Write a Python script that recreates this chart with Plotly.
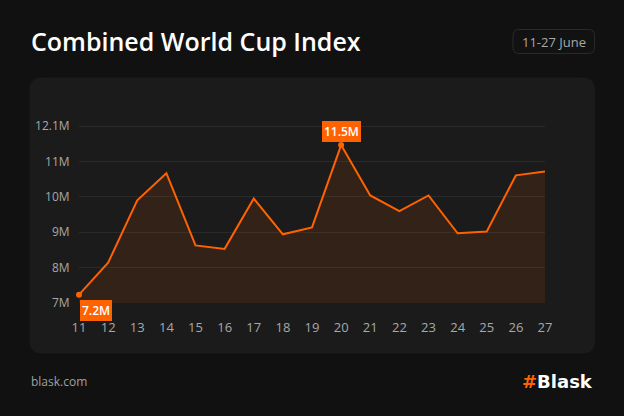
import plotly.graph_objects as go

days = [11, 12, 13, 14, 15, 16, 17, 18, 19, 20, 21, 22, 23, 24, 25, 26, 27]
index_m = [7.24, 8.16, 9.96, 10.74, 8.66, 8.56, 10.01, 8.98, 9.18, 11.55,
           10.10, 9.65, 10.10, 9.01, 9.06, 10.68, 10.79]
y_tickvals = [7.0, 8.02, 9.04, 10.06, 11.08, 12.1]
y_ticktext = ["7M", "8M", "9M", "10M", "11M", "12.1M"]
low_label = "7.2M"
high_label = "11.5M"
title = "Combined World Cup Index"
date_range = "11-27 June"

W, H = 624, 416
L, R, T, B = 79, 79, 125, 113
PW, PH = W - L - R, H - T - B

ORANGE = "#ff6200"
FONT = "Open Sans"


def px(x):
    return (x - L) / PW


def py(y):
    return (H - B - y) / PH


def rounded_rect(x0, y0, x1, y1, r):
    rx, ry = r / PW, r / PH
    X0, X1 = px(x0), px(x1)
    Y0, Y1 = py(y0), py(y1)  # Y0 top (larger), Y1 bottom
    return (f"M {X0+rx},{Y0} L {X1-rx},{Y0} Q {X1},{Y0} {X1},{Y0-ry} "
            f"L {X1},{Y1+ry} Q {X1},{Y1} {X1-rx},{Y1} "
            f"L {X0+rx},{Y1} Q {X0},{Y1} {X0},{Y1+ry} "
            f"L {X0},{Y0-ry} Q {X0},{Y0} {X0+rx},{Y0} Z")


fig = go.Figure()
fig.add_trace(go.Scatter(
    x=days, y=index_m, mode="lines",
    line=dict(color=ORANGE, width=2),
    fill="tozeroy", fillcolor="rgba(255,98,0,0.10)",
    hoverinfo="skip", showlegend=False,
))

lo_i = index_m.index(min(index_m))
hi_i = index_m.index(max(index_m))
fig.add_trace(go.Scatter(
    x=[days[lo_i], days[hi_i]], y=[index_m[lo_i], index_m[hi_i]],
    mode="markers", marker=dict(color=ORANGE, size=6),
    cliponaxis=False, hoverinfo="skip", showlegend=False,
))

shapes = [
    dict(type="path", xref="paper", yref="paper", layer="below",
         path=rounded_rect(29.5, 77.5, 595, 353.5, 13),
         fillcolor="#1b1b1b", line=dict(width=0)),
    dict(type="path", xref="paper", yref="paper", layer="below",
         path=rounded_rect(513, 29.5, 594.5, 53.5, 6),
         fillcolor="#121212", line=dict(width=1, color="#2a2a2a")),
]

annotations = [
    dict(xref="paper", yref="paper", x=px(29), y=py(41), xanchor="left",
         yanchor="middle", text=title, showarrow=False,
         font=dict(family=FONT, size=25, color="#ffffff", weight=600)),
    dict(xref="paper", yref="paper", x=px(553.5), y=py(41.5), xanchor="center",
         yanchor="middle", text=date_range, showarrow=False,
         font=dict(family=FONT, size=13, color="#a8a8a8")),
    dict(xref="paper", yref="paper", x=px(29), y=py(381), xanchor="left",
         yanchor="middle", text="blask.com", showarrow=False,
         font=dict(family=FONT, size=12, color="#a0a0a0")),
    dict(xref="paper", yref="paper", x=px(595), y=py(381), xanchor="right",
         yanchor="middle",
         text=f"<span style='color:{ORANGE}'>#</span>Blask", showarrow=False,
         font=dict(family="DejaVu Sans", size=18, color="#ffffff", weight=700)),
    dict(x=days[lo_i], y=index_m[lo_i], xref="x", yref="y", text=low_label,
         showarrow=False, xshift=16.5, yshift=-15.5,
         bgcolor=ORANGE, bordercolor=ORANGE, borderwidth=1, borderpad=1,
         font=dict(family=FONT, size=12, color="#ffffff", weight=600)),
    dict(x=days[hi_i], y=index_m[hi_i], xref="x", yref="y", text=high_label,
         showarrow=False, yshift=14,
         bgcolor=ORANGE, bordercolor=ORANGE, borderwidth=1, borderpad=1,
         font=dict(family=FONT, size=12, color="#ffffff", weight=600)),
]

fig.update_layout(
    width=W, height=H,
    margin=dict(l=L, r=R, t=T, b=B),
    paper_bgcolor="#111111", plot_bgcolor="rgba(0,0,0,0)",
    shapes=shapes, annotations=annotations,
    xaxis=dict(range=[days[0], days[-1]], tickvals=days,
               ticktext=[str(d) for d in days], showgrid=False,
               zeroline=False, showline=False,
               ticks="outside", ticklen=12, tickcolor="rgba(0,0,0,0)",
               tickfont=dict(family=FONT, size=13, color="#a8a8a8")),
    yaxis=dict(range=[7, 12.13], tickvals=y_tickvals, ticktext=y_ticktext,
               showgrid=True, gridcolor="#2a2a2a", gridwidth=1,
               zeroline=False, showline=False,
               ticks="outside", ticklen=6, tickcolor="rgba(0,0,0,0)",
               tickfont=dict(family=FONT, size=12, color="#a8a8a8")),
    font=dict(family=FONT),
)

fig.write_html("out.html")
